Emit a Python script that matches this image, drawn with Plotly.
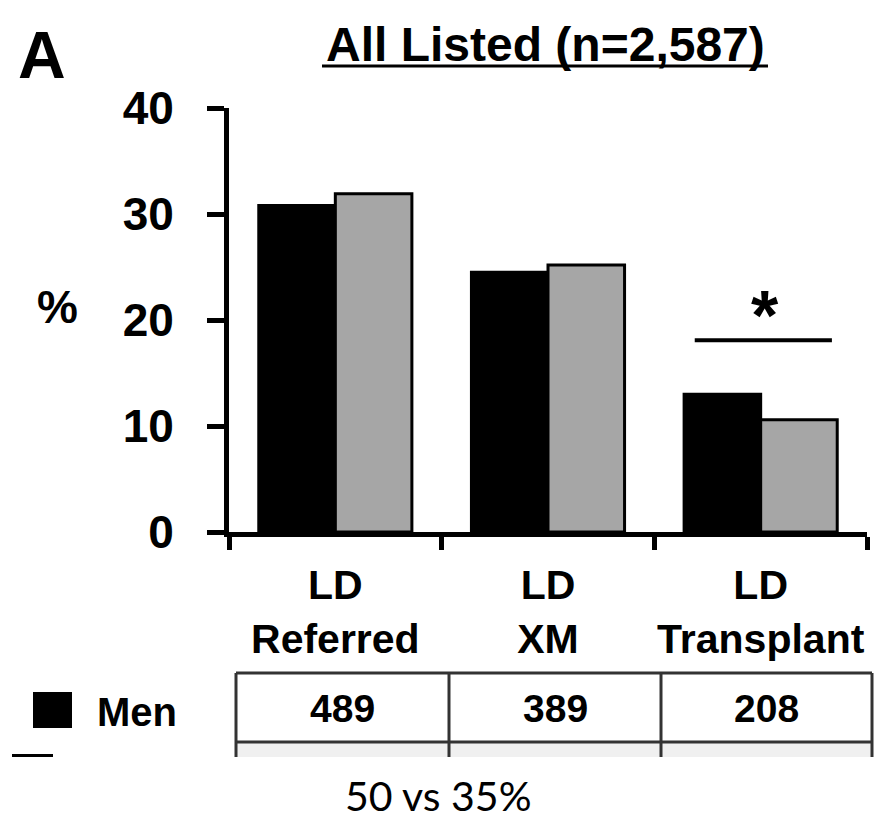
import plotly.graph_objects as go

# ---- data ----
categories = ["LD Referred", "LD XM", "LD Transplant"]
category_labels = ["LD<br>Referred", "LD<br>XM", "LD<br>Transplant"]
men_pct = [30.8, 24.5, 13.0]
women_pct = [31.9, 25.2, 10.6]
men_n = [489, 389, 208]
y_ticks = [0, 10, 20, 30, 40]

W, H = 877, 822
FONT = "Liberation Sans, Arial, sans-serif"


def px(x):
    return x / W


def py(y):
    return 1 - y / H


fig = go.Figure()
fig.add_trace(go.Bar(x=categories, y=men_pct, name="Men",
                     marker=dict(color="#000000", line=dict(color="#000000", width=3))))
fig.add_trace(go.Bar(x=categories, y=women_pct, name="Women",
                     marker=dict(color="#a6a6a6", line=dict(color="#000000", width=3))))

fig.update_layout(
    template="none",
    width=W, height=H,
    margin=dict(l=0, r=0, t=0, b=0, autoexpand=False),
    paper_bgcolor="white", plot_bgcolor="white",
    showlegend=False,
    barmode="group", bargap=0.28, bargroupgap=0,
    font=dict(family=FONT, color="black"),
    xaxis=dict(domain=[px(229), px(867)], range=[-0.5, 2.5], automargin=False,
               tickmode="array", tickvals=categories, ticktext=category_labels, tickangle=0,
               tickson="boundaries", ticks="outside", ticklen=13, tickwidth=5, tickcolor="black",
               showline=True, linewidth=5, linecolor="black", showgrid=False, zeroline=False,
               tickfont=dict(family=FONT, size=41, color="black", weight="bold"),
               ticklabelstandoff=13),
    yaxis=dict(domain=[py(532), py(108)], range=[0, 40], automargin=False,
               tickmode="array", tickvals=y_ticks, ticktext=[str(v) for v in y_ticks],
               ticks="outside", ticklen=17, tickwidth=5, tickcolor="black",
               showline=True, linewidth=5, linecolor="black", showgrid=False, zeroline=False,
               tickfont=dict(family=FONT, size=46, color="black", weight="bold"),
               ticklabelstandoff=24),
)

shapes = []
annotations = []


def note(x, y, text, size, family=FONT, xanchor="center", yanchor="middle", xref="paper", yref="paper"):
    annotations.append(dict(xref=xref, yref=yref, x=x, y=y, text=text, showarrow=False,
                            xanchor=xanchor, yanchor=yanchor,
                            font=dict(family=family, size=size, color="black")))


# significance bar over LD Transplant
shapes.append(dict(type="line", xref="x", yref="y", x0=1.69, x1=2.335, y0=18.1, y1=18.1,
                   line=dict(color="black", width=4)))
note(2.02, 16.5, "<b>*</b>", 70, yanchor="bottom", xref="x", yref="y")

# panel letter, title, axis title
note(px(42), py(55), "<b>A</b>", 66)
note(px(545), py(45), "<b>All Listed (n=2,587)</b>", 48)
shapes.append(dict(type="line", xref="paper", yref="paper", x0=px(322), x1=px(768),
                   y0=py(66), y1=py(66), line=dict(color="black", width=3)))
note(px(57), py(307), "<b>%</b>", 46)

# table
tl, tr, tt, tm, tb = 236, 872, 673, 742, 757
cols = [236, 449, 661, 872]
shapes.append(dict(type="rect", xref="paper", yref="paper", x0=px(tl), x1=px(tr),
                   y0=py(tm), y1=py(tb), fillcolor="#f0f0f0", line=dict(width=0), layer="below"))
shapes.append(dict(type="line", xref="paper", yref="paper", x0=px(tl), x1=px(tr),
                   y0=py(tt), y1=py(tt), line=dict(color="#333333", width=3)))
shapes.append(dict(type="line", xref="paper", yref="paper", x0=px(tl), x1=px(tr),
                   y0=py(tm), y1=py(tm), line=dict(color="#333333", width=3)))
for c in cols:
    shapes.append(dict(type="line", xref="paper", yref="paper", x0=px(c), x1=px(c),
                       y0=py(tt), y1=py(tb), line=dict(color="#333333", width=3)))
for i, n in enumerate(men_n):
    cx = (cols[i] + cols[i + 1]) / 2
    note(px(cx), py(708), f"<b>{n}</b>", 39)

# legend rows
shapes.append(dict(type="rect", xref="paper", yref="paper", x0=px(33), x1=px(72),
                   y0=py(728), y1=py(692), fillcolor="black", line=dict(width=0)))
shapes.append(dict(type="rect", xref="paper", yref="paper", x0=px(12), x1=px(53),
                   y0=py(757), y1=py(754), fillcolor="black", line=dict(width=0)))
note(px(95), py(712), "<b>Men</b>", 40, xanchor="left")

# caption
note(px(438), py(795), "50 vs 35%", 41, family="Lato, sans-serif")

fig.update_layout(shapes=shapes, annotations=annotations)
fig.write_html("out.html")
